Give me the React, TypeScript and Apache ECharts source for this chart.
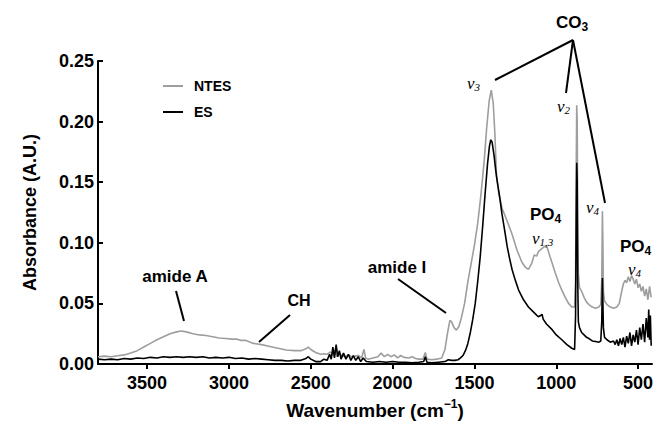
import React, { useEffect, useRef } from "react";
import * as echarts from "echarts";

// ---- data ----
const seriesNames = ["NTES", "ES"];
const xTicks = [3500, 3000, 2500, 2000, 1500, 1000, 500];
const yTicks = [0, 0.05, 0.1, 0.15, 0.2, 0.25];

// [wavenumber cm-1, absorbance]
const ntesSpectrum: [number, number][] = [
  [3800, 0.006], [3760, 0.0065], [3720, 0.006], [3680, 0.0068], [3640, 0.0075], [3600, 0.009],
  [3560, 0.011], [3520, 0.014], [3480, 0.017], [3440, 0.02], [3400, 0.0225], [3360, 0.025],
  [3320, 0.0265], [3290, 0.0272], [3260, 0.0265], [3220, 0.025], [3180, 0.024], [3140, 0.0235],
  [3100, 0.0225], [3060, 0.0215], [3020, 0.021], [2980, 0.0205], [2950, 0.0205], [2930, 0.0195],
  [2900, 0.0195], [2850, 0.017], [2800, 0.016], [2750, 0.0145], [2700, 0.013], [2650, 0.0115],
  [2600, 0.011], [2560, 0.011], [2530, 0.0125], [2515, 0.014], [2500, 0.012], [2470, 0.0095],
  [2440, 0.008], [2420, 0.0085], [2400, 0.008], [2380, 0.01], [2365, 0.007], [2350, 0.012],
  [2340, 0.006], [2330, 0.009], [2310, 0.007], [2290, 0.006], [2270, 0.0075], [2250, 0.006],
  [2230, 0.0065], [2210, 0.007], [2190, 0.005], [2175, 0.012], [2165, 0.005], [2150, 0.004],
  [2120, 0.005], [2090, 0.006], [2070, 0.009], [2050, 0.006], [2030, 0.008], [2010, 0.006],
  [1990, 0.0075], [1970, 0.005], [1950, 0.007], [1930, 0.0055], [1900, 0.005], [1880, 0.006],
  [1860, 0.0045], [1840, 0.004], [1815, 0.004], [1800, 0.0095], [1790, 0.004], [1760, 0.0035],
  [1730, 0.004], [1700, 0.005], [1680, 0.012], [1665, 0.025], [1650, 0.036], [1640, 0.035],
  [1625, 0.03], [1610, 0.028], [1595, 0.031], [1580, 0.038], [1560, 0.05], [1540, 0.068],
  [1520, 0.083], [1500, 0.098], [1480, 0.116], [1460, 0.14], [1440, 0.168], [1425, 0.195],
  [1410, 0.217], [1397, 0.226], [1385, 0.215], [1375, 0.19], [1365, 0.155], [1350, 0.14],
  [1330, 0.128], [1300, 0.118], [1270, 0.107], [1240, 0.094], [1210, 0.084], [1190, 0.08],
  [1170, 0.078], [1150, 0.083], [1135, 0.09], [1120, 0.089], [1108, 0.093], [1090, 0.095],
  [1067, 0.0975], [1055, 0.096], [1037, 0.088], [1020, 0.081], [1006, 0.075], [985, 0.067],
  [966, 0.061], [945, 0.055], [925, 0.05], [905, 0.047], [888, 0.047], [882, 0.07],
  [878, 0.16], [875, 0.2135], [872, 0.2], [869, 0.12], [865, 0.075], [858, 0.063],
  [845, 0.06], [830, 0.055], [815, 0.051], [800, 0.049], [780, 0.047], [760, 0.046],
  [740, 0.047], [728, 0.049], [722, 0.07], [718, 0.126], [715, 0.1], [712, 0.06],
  [705, 0.052], [690, 0.049], [670, 0.047], [650, 0.046], [630, 0.047], [615, 0.05],
  [600, 0.06], [590, 0.066], [580, 0.069], [570, 0.067], [560, 0.072], [550, 0.068],
  [540, 0.073], [530, 0.07], [520, 0.066], [510, 0.07], [500, 0.063], [490, 0.066],
  [480, 0.06], [470, 0.064], [460, 0.056], [450, 0.062], [440, 0.053], [430, 0.064],
  [420, 0.055],
];

const esSpectrum: [number, number][] = [
  [3800, 0.004], [3760, 0.0035], [3720, 0.004], [3680, 0.0035], [3640, 0.0045], [3600, 0.004],
  [3560, 0.005], [3520, 0.0045], [3480, 0.0055], [3440, 0.005], [3400, 0.006], [3360, 0.0055],
  [3320, 0.006], [3280, 0.0055], [3240, 0.006], [3200, 0.0055], [3160, 0.006], [3120, 0.005],
  [3080, 0.0055], [3040, 0.005], [3000, 0.0055], [2960, 0.0045], [2920, 0.005], [2880, 0.004],
  [2840, 0.0045], [2800, 0.004], [2760, 0.0035], [2720, 0.003], [2680, 0.003], [2640, 0.0025],
  [2600, 0.003], [2560, 0.003], [2530, 0.0045], [2515, 0.006], [2500, 0.004], [2470, 0.002],
  [2440, 0.002], [2420, 0.004], [2400, 0.003], [2385, 0.008], [2375, 0.004], [2365, 0.014],
  [2355, 0.005], [2345, 0.016], [2335, 0.006], [2325, 0.011], [2315, 0.004], [2300, 0.009],
  [2285, 0.004], [2270, 0.008], [2255, 0.003], [2240, 0.007], [2225, 0.003], [2210, 0.006],
  [2195, 0.002], [2180, 0.005], [2160, 0.002], [2120, 0.0015], [2080, 0.002], [2040, 0.0015],
  [2000, 0.002], [1960, 0.0015], [1920, 0.0015], [1880, 0.001], [1840, 0.0015], [1810, 0.002],
  [1800, 0.006], [1790, 0.0015], [1760, 0.001], [1720, 0.0015], [1680, 0.002], [1660, 0.0035],
  [1640, 0.003], [1620, 0.003], [1600, 0.0035], [1585, 0.005], [1570, 0.007], [1555, 0.011],
  [1540, 0.017], [1525, 0.026], [1510, 0.037], [1495, 0.05], [1480, 0.068], [1465, 0.088],
  [1450, 0.113], [1435, 0.14], [1420, 0.165], [1408, 0.18], [1400, 0.185], [1392, 0.183],
  [1380, 0.172], [1370, 0.16], [1362, 0.152], [1345, 0.137], [1332, 0.124], [1315, 0.11],
  [1300, 0.097], [1285, 0.087], [1270, 0.078], [1250, 0.069], [1230, 0.061], [1200, 0.053],
  [1170, 0.047], [1140, 0.043], [1110, 0.039], [1095, 0.04], [1087, 0.041], [1080, 0.037],
  [1060, 0.033], [1030, 0.029], [1000, 0.024], [966, 0.02], [935, 0.016], [905, 0.013],
  [888, 0.012], [882, 0.04], [878, 0.12], [875, 0.166], [872, 0.15], [869, 0.07],
  [865, 0.035], [858, 0.03], [845, 0.026], [830, 0.024], [815, 0.022], [800, 0.021],
  [780, 0.019], [760, 0.0185], [740, 0.018], [728, 0.019], [722, 0.035], [718, 0.071],
  [715, 0.05], [712, 0.03], [705, 0.022], [690, 0.02], [670, 0.018], [650, 0.019],
  [640, 0.016], [630, 0.02], [620, 0.015], [610, 0.021], [600, 0.016], [590, 0.022],
  [580, 0.014], [570, 0.023], [560, 0.017], [550, 0.026], [540, 0.015], [530, 0.024],
  [520, 0.018], [510, 0.028], [500, 0.016], [490, 0.03], [480, 0.02], [470, 0.033],
  [460, 0.018], [450, 0.038], [440, 0.022], [435, 0.045], [430, 0.02], [425, 0.04],
  [420, 0.015],
];

const FONT = "'Liberation Sans', Arial, sans-serif";
const SERIF = "'Liberation Serif', 'Times New Roman', serif";

const bigRich = {
  m: { fontSize: 17, fontWeight: "bold", fontFamily: FONT, lineHeight: 22, fill: "#000" },
  s: { fontSize: 12, fontWeight: "bold", fontFamily: FONT, lineHeight: 11, verticalAlign: "bottom", fill: "#000" },
};
const nuRich = {
  v: { fontSize: 17, fontStyle: "italic", fontFamily: SERIF, lineHeight: 18, fill: "#000" },
  s: { fontSize: 11, fontStyle: "italic", fontFamily: SERIF, lineHeight: 9, verticalAlign: "bottom", fill: "#000" },
};

const richText = (x: number, y: number, text: string, rich: any, align = "left") => ({
  type: "text",
  x,
  y,
  z: 100,
  style: { text, rich, align, verticalAlign: "middle", fill: "#000" },
});
const plainText = (x: number, y: number, text: string, size = 17) => ({
  type: "text",
  x,
  y,
  z: 100,
  style: {
    text,
    align: "center",
    verticalAlign: "middle",
    fill: "#000",
    fontSize: size,
    fontWeight: "bold",
    fontFamily: FONT,
  },
});
const leader = (x1: number, y1: number, x2: number, y2: number) => ({
  type: "line",
  z: 100,
  shape: { x1, y1, x2, y2 },
  style: { stroke: "#000", lineWidth: 2 },
});

export default function App() {
  const ref = useRef<HTMLDivElement>(null);
  useEffect(() => {
    if (!ref.current) return;
    const chart = echarts.init(ref.current, null, { renderer: "svg" });
    const option: any = {
      animation: false,
      backgroundColor: "#fff",
      grid: { left: 98, right: 8, top: 61, bottom: 72, containLabel: false },
      legend: {
        orient: "vertical",
        left: 158,
        top: 73,
        itemWidth: 20,
        itemHeight: 2,
        itemGap: 10,
        icon: "rect",
        data: seriesNames,
        textStyle: {
          fontSize: 14,
          fontWeight: "bold",
          fontFamily: FONT,
          color: "#000",
          lineHeight: 16,
          padding: [0, 0, 0, 6],
        },
      },
      xAxis: {
        type: "value",
        min: 415,
        max: 3800,
        inverse: true,
        axisLine: { show: true, onZero: false, lineStyle: { color: "#000", width: 2 } },
        axisTick: { show: true, length: 5, lineStyle: { color: "#000", width: 2 }, customValues: xTicks },
        axisLabel: {
          customValues: xTicks,
          color: "#000",
          fontSize: 18,
          fontWeight: "bold",
          fontFamily: FONT,
          margin: 10,
          formatter: (v: number) => String(v),
        },
        splitLine: { show: false },
        name: "{m|Wavenumber (cm}{s|−1}{m|)}",
        nameLocation: "middle",
        nameGap: 34,
        nameTextStyle: {
          rich: {
            m: { fontSize: 19, fontWeight: "bold", fontFamily: FONT, color: "#000", lineHeight: 24 },
            s: { fontSize: 12, fontWeight: "bold", fontFamily: FONT, color: "#000", lineHeight: 12, verticalAlign: "top" },
          },
        },
      },
      yAxis: {
        type: "value",
        min: yTicks[0],
        max: yTicks[yTicks.length - 1],
        interval: 0.05,
        axisLine: { show: true, onZero: false, lineStyle: { color: "#000", width: 2 } },
        axisTick: { show: true, inside: true, length: 5, lineStyle: { color: "#000", width: 2 } },
        axisLabel: {
          color: "#000",
          fontSize: 18,
          fontWeight: "bold",
          fontFamily: FONT,
          margin: 4,
          formatter: (v: number) => v.toFixed(2),
        },
        splitLine: { show: false },
        name: "Absorbance (A.U.)",
        nameLocation: "middle",
        nameGap: 59,
        nameTextStyle: { fontSize: 18, fontWeight: "bold", fontFamily: FONT, color: "#000" },
      },
      series: [
        {
          name: seriesNames[0],
          type: "line",
          data: ntesSpectrum,
          showSymbol: false,
          symbol: "none",
          color: "#9e9e9e",
          lineStyle: { width: 1.6, color: "#9e9e9e" },
        },
        {
          name: seriesNames[1],
          type: "line",
          data: esSpectrum,
          showSymbol: false,
          symbol: "none",
          color: "#000",
          lineStyle: { width: 1.6, color: "#000" },
        },
      ],
      graphic: [
        plainText(175, 276, "amide A"),
        leader(176, 291, 184, 321),
        plainText(299, 300, "CH", 16),
        leader(290, 315, 259, 342),
        plainText(397, 267, "amide I"),
        leader(398, 279, 446, 313),
        richText(556, 22, "{m|CO}{s|3}", bigRich),
        leader(573, 40, 495, 80),
        leader(573, 40, 566, 93),
        leader(573, 40, 605, 203),
        richText(467, 83, "{v|ν}{s|3}", nuRich),
        richText(557, 106, "{v|ν}{s|2}", nuRich),
        richText(586, 207, "{v|ν}{s|4}", nuRich),
        richText(530, 214, "{m|PO}{s|4}", bigRich),
        richText(532, 238, "{v|ν}{s|1,3}", nuRich),
        richText(620, 246, "{m|PO}{s|4}", bigRich),
        richText(628, 269, "{v|ν}{s|4}", nuRich),
      ],
    };
    chart.setOption(option);
    return () => chart.dispose();
  }, []);
  return (
    <div
      ref={ref}
      style={{ position: "fixed", left: 0, top: 0, width: 660, height: 436, background: "#fff" }}
    />
  );
}
